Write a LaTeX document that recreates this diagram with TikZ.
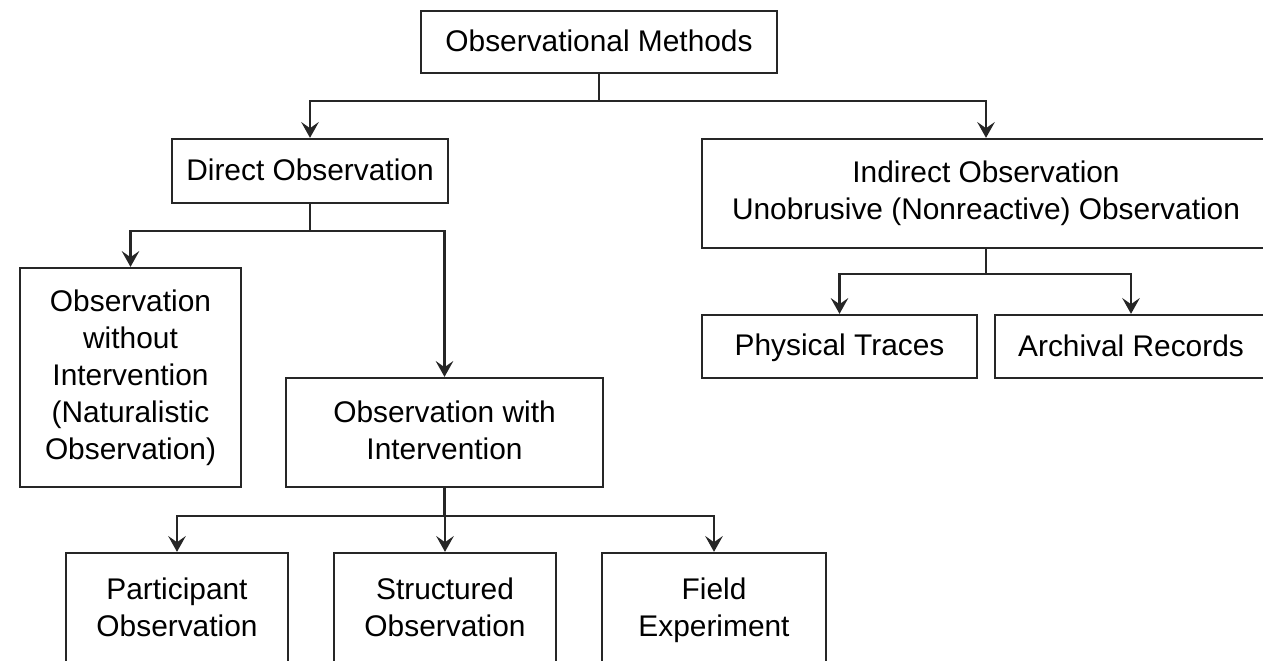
\documentclass[tikz,border=0pt]{standalone}
\usepackage{fontspec}
\setmainfont{Liberation Sans}
\usetikzlibrary{arrows.meta}
\newcommand{\boxstrut}{\rule[-3pt]{0pt}{17pt}}

\begin{document}
\begin{tikzpicture}[x=0.02cm, y=-0.02cm,
    box/.style={rectangle, draw=black!85, line width=1.3pt, inner sep=2pt, align=center, execute at begin node=\boxstrut, execute at end node=\boxstrut, font=\fontsize{17}{21}\selectfont},
    link/.style={line width=1.3pt, draw=black!85, -{Stealth[length=9pt, width=10pt, inset=3.5pt]}}]
    \useasboundingbox (0,0) rectangle (1263,661);
    \clip (0,0) rectangle (1263,661);

    % Top node
    \node[box, minimum width=7.12cm, minimum height=1.24cm] (methods) at (599,42) {Observational Methods};

    % Second level
    \node[box, minimum width=5.52cm, minimum height=1.28cm] (direct) at (310,171) {Direct Observation};
    \node[box, minimum width=11.36cm, minimum height=2.18cm] (indirect) at (986,193.5) {Indirect Observation\\Unobrusive (Nonreactive) Observation};

    % Under direct observation
    \node[box, minimum width=4.42cm, minimum height=4.38cm] (without) at (130.5,377.5) {Observation\\without\\Intervention\\(Naturalistic\\Observation)};
    \node[box, minimum width=6.34cm, minimum height=2.18cm] (with) at (444.5,432.5) {Observation with\\Intervention};

    % Under indirect observation
    \node[box, minimum width=5.5cm, minimum height=1.26cm] (traces) at (839.5,346.5) {Physical Traces};
    \node[box, minimum width=5.44cm, minimum height=1.26cm] (archival) at (1131,346.5) {Archival Records};

    % Under observation with intervention
    \node[box, minimum width=4.44cm, minimum height=2.28cm] (participant) at (177,610) {Participant\\Observation};
    \node[box, minimum width=4.44cm, minimum height=2.28cm] (structured) at (445,610) {Structured\\Observation};
    \node[box, minimum width=4.48cm, minimum height=2.28cm] (field) at (714,610) {Field\\Experiment};

    \draw[link] (methods.south) -- ++(0,27) -| (direct.north);
    \draw[link] (methods.south) -- ++(0,27) -| (indirect.north);

    \draw[link] (direct.south) -- ++(0,27) -| (without.north);
    \draw[link] (direct.south) -- ++(0,27) -| (with.north);

    \draw[link] (indirect.south) -- ++(0,25) -| (traces.north);
    \draw[link] (indirect.south) -- ++(0,25) -| (archival.north);

    \draw[link] (with.south) -- ++(0,28) -| (participant.north);
    \draw[link] (with.south) -- ++(0,28) -| (structured.north);
    \draw[link] (with.south) -- ++(0,28) -| (field.north);
\end{tikzpicture}
\end{document}
